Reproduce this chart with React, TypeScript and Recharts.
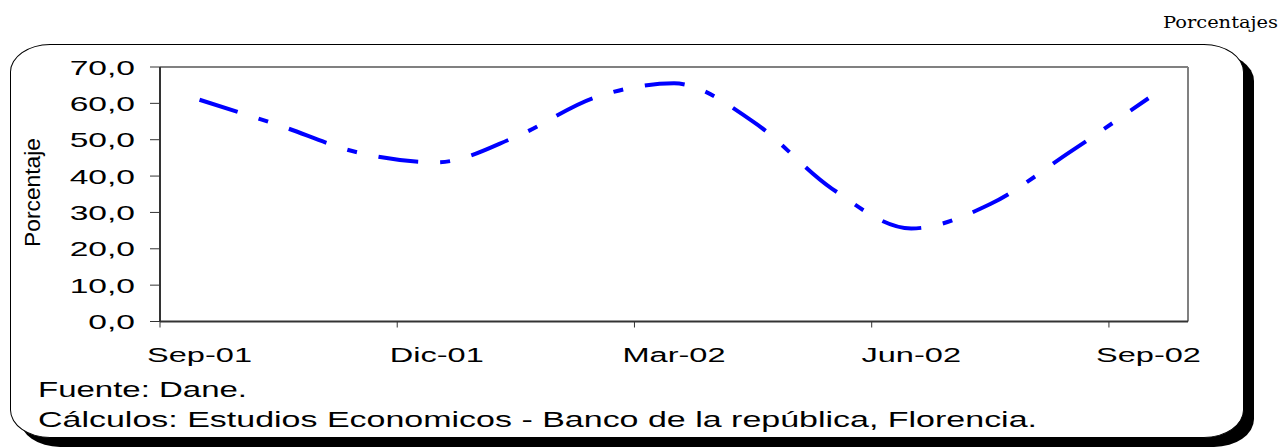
import { LineChart, Line, XAxis, YAxis, ReferenceLine } from "recharts";

const months = [
  "Sep-01", "Oct-01", "Nov-01", "Dic-01", "Ene-02", "Feb-02", "Mar-02",
  "Abr-02", "May-02", "Jun-02", "Jul-02", "Ago-02", "Sep-02",
];
const values = [61.0, 54.0, 46.5, 43.8, 50.8, 61.6, 65.5, 55.0, 36.5, 25.6, 32.3, 46.5, 61.4];
const yTicks = [0, 10, 20, 30, 40, 50, 60, 70];
// tick marks sit on category boundaries, every third month
const xTickBounds = [-0.5, 2.5, 5.5, 8.5, 11.5];

const W = 1281;
const H = 447;
const PLOT_LEFT = 160;
const PLOT_RIGHT = 1188;
const CAT_W = (PLOT_RIGHT - PLOT_LEFT) / months.length;
const FONT = "'Liberation Sans', Arial, sans-serif";

const data = values.map((v, i) => ({ idx: i, month: months[i], value: v }));

function XTick(props: any) {
  const label = months[props.payload.value + 0.5];
  return (
    <text
      x={0}
      y={0}
      transform={`translate(${props.x + CAT_W / 2}, 362) scale(1.55,1)`}
      textAnchor="middle"
      fontSize={21}
      fontFamily={FONT}
      fill="#000"
    >
      {label}
    </text>
  );
}

function YTick(props: any) {
  const label = Number(props.payload.value).toFixed(1).replace(".", ",");
  return (
    <text
      x={0}
      y={0}
      transform={`translate(135, ${props.y + 7.5}) scale(1.6,1)`}
      textAnchor="end"
      fontSize={21}
      fontFamily={FONT}
      fill="#000"
    >
      {label}
    </text>
  );
}

export default function App() {
  return (
    <div style={{ position: "absolute", left: 0, top: 0, width: W, height: H, background: "#fff" }}>
      {/* frame with drop shadow */}
      <div
        style={{
          position: "absolute", left: 20, top: 53, width: 1234, height: 394,
          background: "#000", borderRadius: "40px / 28px",
        }}
      />
      <div
        style={{
          position: "absolute", left: 10, top: 44, width: 1234, height: 394,
          boxSizing: "border-box", background: "#fff", border: "1.5px solid #000",
          borderRadius: "40px / 28px",
        }}
      />
      <div style={{ position: "absolute", left: 0, top: 0 }}>
        <LineChart
          width={W}
          height={H}
          data={data}
          margin={{ top: 67, right: W - PLOT_RIGHT, bottom: 0, left: 0 }}
        >
          <XAxis
            type="number"
            dataKey="idx"
            domain={[-0.5, 12.5]}
            ticks={xTickBounds}
            interval={0}
            allowDecimals
            height={125.5}
            tickSize={6}
            tickLine={{ stroke: "#333", strokeWidth: 1 }}
            axisLine={{ stroke: "#333", strokeWidth: 2 }}
            tick={XTick}
          />
          <YAxis
            type="number"
            domain={[0, 70]}
            ticks={yTicks}
            interval={0}
            width={PLOT_LEFT}
            tickSize={10}
            tickLine={{ stroke: "#333", strokeWidth: 1 }}
            axisLine={{ stroke: "#333", strokeWidth: 2 }}
            tick={YTick}
          />
          <ReferenceLine y={70} stroke="#808080" strokeWidth={2} />
          <ReferenceLine x={12.5} stroke="#808080" strokeWidth={2} />
          <Line
            type="monotone"
            dataKey="value"
            stroke="#0000FF"
            strokeWidth={4}
            strokeDasharray="40 22 10 22"
            dot={false}
            activeDot={false}
            isAnimationActive={false}
          />
        </LineChart>
      </div>
      <svg
        width={W}
        height={H}
        style={{ position: "absolute", left: 0, top: 0, pointerEvents: "none" }}
      >
        <text
          x={1278}
          y={28}
          textAnchor="end"
          fontSize={16}
          fontFamily="'DejaVu Serif', serif"
          textLength={115}
          lengthAdjust="spacingAndGlyphs"
        >
          Porcentajes
        </text>
        <text
          x={0}
          y={0}
          transform="translate(40, 192.5) rotate(-90)"
          textAnchor="middle"
          fontSize={22}
          fontFamily={FONT}
          textLength={109}
          lengthAdjust="spacingAndGlyphs"
        >
          Porcentaje
        </text>
        <text
          x={38}
          y={397}
          fontSize={22}
          fontFamily={FONT}
          textLength={209}
          lengthAdjust="spacingAndGlyphs"
        >
          Fuente: Dane.
        </text>
        <text
          x={38}
          y={427}
          fontSize={22}
          fontFamily={FONT}
          textLength={999}
          lengthAdjust="spacingAndGlyphs"
        >
          Cálculos: Estudios Economicos - Banco de la república, Florencia.
        </text>
      </svg>
    </div>
  );
}
